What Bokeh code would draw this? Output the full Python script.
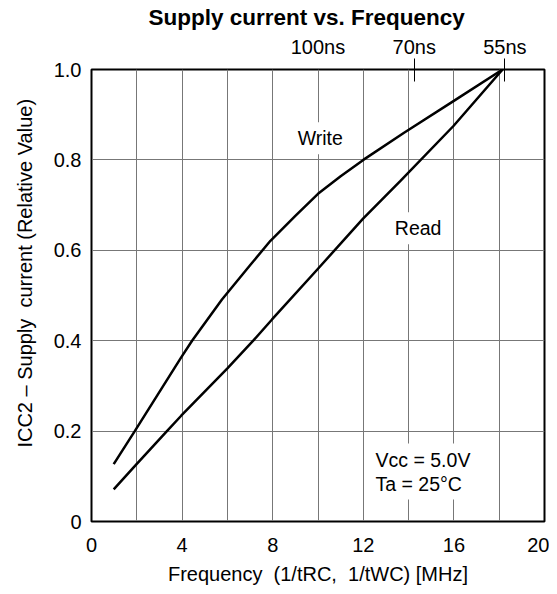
from bokeh.plotting import figure
from bokeh.models import FixedTicker, LinearAxis, Label, Range1d, CustomJSTickFormatter
from bokeh.embed import file_html
from bokeh.resources import INLINE

# ---- data ----
write_freq = [0.98, 1.91, 3.96, 4.44, 5.76, 7.0, 7.9, 9.0, 10.0, 11.0, 12.0, 13.8, 15.98, 18.15]
write_icc = [0.127, 0.2, 0.363, 0.4, 0.491, 0.567, 0.621, 0.676, 0.725, 0.764, 0.8, 0.86, 0.93, 1.0]

read_freq = [0.98, 1.94, 3.33, 3.96, 6.0, 7.14, 7.97, 9.96, 11.99, 13.63, 15.98, 18.15]
read_icc = [0.071, 0.124, 0.2, 0.234, 0.339, 0.4, 0.447, 0.557, 0.670, 0.753, 0.875, 1.0]

x_ticks = [0, 4, 8, 12, 16, 20]
x_grid = [2, 4, 6, 8, 10, 12, 14, 16, 18]
y_ticks = [0, 0.2, 0.4, 0.6, 0.8, 1.0]
y_grid = [0.2, 0.4, 0.6, 0.8]
top_label_ticks = [10, 14.25, 18.25]
top_labels = ["100ns", "70ns", "55ns"]
top_mark_ticks = [14.25, 18.25]

FONT = "Liberation Sans"
SP = "\u00a0"

p = figure(width=549, height=587, x_range=Range1d(0, 20), y_range=Range1d(0, 1),
           output_backend="svg", toolbar_location=None,
           min_border_left=91, min_border_right=5, min_border_top=69, min_border_bottom=64)
p.background_fill_color = "white"
p.border_fill_color = "white"
p.outline_line_color = "black"
p.outline_line_width = 2

p.title.text = "Supply current vs. Frequency"
p.title.align = "left"
p.title.offset = 57
p.title.standoff = 5
p.title.text_font = FONT
p.title.text_font_size = "22.5px"
p.title.text_font_style = "bold"
p.title.text_color = "black"

# bottom axis
xa = p.xaxis[0]
xa.ticker = FixedTicker(ticks=x_ticks)
xa.major_tick_in = 0
xa.major_tick_out = 0
xa.minor_tick_line_color = None
xa.axis_line_color = "black"
xa.major_label_text_font = FONT
xa.major_label_text_font_size = "20px"
xa.major_label_text_color = "black"
xa.major_label_standoff = 16
xa.axis_label = "Frequency" + SP + SP + "(1/tRC," + SP + SP + "1/tWC) [MHz]"
xa.axis_label_text_font = FONT
xa.axis_label_text_font_size = "20px"
xa.axis_label_text_font_style = "normal"
xa.axis_label_text_color = "black"
xa.axis_label_standoff = 8

# left axis
ya = p.yaxis[0]
ya.ticker = FixedTicker(ticks=y_ticks)
ya.formatter = CustomJSTickFormatter(code="return tick == 0 ? '0' : tick.toFixed(1);")
ya.major_tick_in = 0
ya.major_tick_out = 0
ya.minor_tick_line_color = None
ya.axis_line_color = "black"
ya.major_label_text_font = FONT
ya.major_label_text_font_size = "20px"
ya.major_label_text_color = "black"
ya.major_label_standoff = 10
ya.axis_label = SP * 8 + "ICC2 – Supply" + SP + SP + "current (Relative Value)"
ya.axis_label_text_font = FONT
ya.axis_label_text_font_size = "20px"
ya.axis_label_text_font_style = "normal"
ya.axis_label_text_color = "black"
ya.axis_label_standoff = 15

# top: tick marks for the cycle times (nearest the frame)
tm = LinearAxis(ticker=FixedTicker(ticks=top_mark_ticks),
                formatter=CustomJSTickFormatter(code="return '';"))
tm.axis_line_color = None
tm.major_tick_in = 12
tm.major_tick_out = 11
tm.major_tick_line_color = "black"
tm.minor_tick_line_color = None
tm.major_label_text_font_size = "0px"
tm.major_label_standoff = 0
p.add_layout(tm, "above")

# top: cycle-time labels
tl = LinearAxis(ticker=FixedTicker(ticks=top_label_ticks),
                formatter=CustomJSTickFormatter(args=dict(labels=top_labels),
                                                code="return labels[index];"))
tl.axis_line_color = None
tl.major_tick_in = 0
tl.major_tick_out = 0
tl.minor_tick_line_color = None
tl.major_label_text_font = FONT
tl.major_label_text_font_size = "20px"
tl.major_label_text_color = "black"
tl.major_label_standoff = 1
p.add_layout(tl, "above")

# grid
p.xgrid.ticker = FixedTicker(ticks=x_grid)
p.ygrid.ticker = FixedTicker(ticks=y_grid)
for g in (p.xgrid[0], p.ygrid[0]):
    g.grid_line_color = "#777777"
    g.grid_line_width = 1

# curves
p.line(write_freq, write_icc, line_color="black", line_width=2.5)
p.line(read_freq, read_icc, line_color="black", line_width=2.5)

def lab(x, y, t, align="center"):
    p.add_layout(Label(x=x, y=y, text=t, text_align=align, text_baseline="middle",
                       text_font=FONT, text_font_size="19.5px", text_color="black",
                       background_fill_color="white", padding=5))

lab(10.1, 0.848, "Write")
lab(14.42, 0.649, "Read")
lab(12.32, 0.137, "Vcc = 5.0V", "left")
lab(12.32, 0.084, "Ta = 25°C", "left")

open("out.html", "w").write(file_html(p, INLINE))
